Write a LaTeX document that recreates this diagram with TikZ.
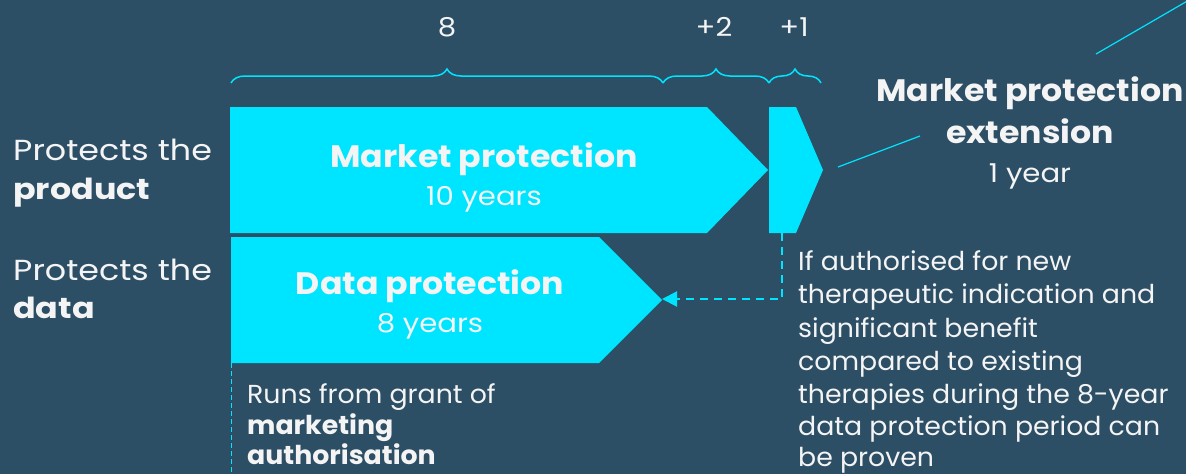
\documentclass[tikz,border=0pt]{standalone}
\usepackage{fontspec}
\setmainfont{Poppins}
\newfontfamily\sidefont[FakeStretch=1.15]{Poppins}
\newfontfamily\titlefont[FakeStretch=1.07]{Poppins}
\newfontfamily\subfont[FakeStretch=1.12]{Poppins}
\newfontfamily\condfont[FakeStretch=1.03]{Poppins}
\usetikzlibrary{decorations.pathreplacing,arrows.meta}
\definecolor{bgc}{HTML}{2C4F66}
\definecolor{cyanc}{HTML}{00E5FF}
\definecolor{txt}{HTML}{F4F4F4}
\tikzset{
  lbl/.style={text=txt, inner sep=0pt},
  side/.style={lbl, anchor=base west, font=\sidefont\fontsize{29}{29}\selectfont},
  sidebold/.style={side, font=\sidefont\fontsize{29}{29}\selectfont\bfseries},
  cond/.style={lbl, anchor=base west, font=\condfont\fontsize{26}{26}\selectfont},
  condbold/.style={cond, font=\condfont\fontsize{26}{26}\selectfont\bfseries},
  title/.style={lbl, anchor=base, font=\titlefont\fontsize{31}{31}\selectfont\bfseries},
  sub/.style={lbl, anchor=base, font=\subfont\fontsize{26}{26}\selectfont},
  num/.style={lbl, anchor=base, font=\subfont\fontsize{26}{26}\selectfont},
  bar/.style={fill=cyanc},
  bracestyle/.style={draw=cyanc, line width=1.5pt, decorate, decoration={brace, amplitude=14pt}},
  dashconn/.style={draw=cyanc, line width=2pt, dash pattern=on 8pt off 6pt, -{Triangle[length=15pt,width=15pt]}},
  thindash/.style={draw=cyanc, line width=1pt, dash pattern=on 5pt off 3pt},
  callout/.style={draw=cyanc, line width=1.2pt}
}
\begin{document}
\begin{tikzpicture}[x=1pt,y=-1pt]
\useasboundingbox (0,0) rectangle (1186,474);
\fill[bgc] (0,0) rectangle (1186,474);
\clip (0,0) rectangle (1186,474);

% coordinates
\coordinate (mp-tip) at (768,170);
\coordinate (ext-bot) at (782,233);
\coordinate (ext-tip) at (823,170);
\coordinate (dp-tip) at (662,299);
\coordinate (dp-bl) at (231,363);
\coordinate (runs-end) at (231,474);
\coordinate (b0) at (231,83);
\coordinate (b1) at (663,83);
\coordinate (b2) at (769,83);
\coordinate (b3) at (821,83);
\coordinate (co1a) at (838,167);
\coordinate (co1b) at (920,136);
\coordinate (co2a) at (1096,54);
\coordinate (co2b) at (1196,-4);

% bars
\path[bar] (230,107) -- (707,107) -- (mp-tip) -- (707,233) -- (230,233) -- cycle;
\path[bar] (769,107) -- (796,107) -- (ext-tip) -- (796,233) -- (769,233) -- cycle;
\path[bar] (231,237) -- (599,237) -- (662,300) -- (599,363) -- (231,363) -- cycle;

% braces
\draw[bracestyle] (b0) -- (b1);
\draw[bracestyle] (b1) -- (b2);
\draw[bracestyle] (b2) -- (b3);
\node[num] (n8) at (447,36) {8};
\node[num] (n2) at (714,36) {+2};
\node[num] (n1) at (794,36) {+1};

% connectors
\draw[dashconn] (ext-bot) |- (dp-tip);
\draw[thindash] (dp-bl) -- (runs-end);
\draw[callout] (co1a) -- (co1b);
\draw[callout] (co2a) -- (co2b);

% side labels
\node[side] (pt1) at (13,160) {Protects the};
\node[sidebold] (pt1b) at (13,199) {product};
\node[side] (pt2) at (13,280) {Protects the};
\node[sidebold] (pt2b) at (13,318) {data};

% bar labels
\node[title] (mpt) at (484,167) {Market protection};
\node[sub] (mps) at (484,205) {10 years};
\node[title] (dpt) at (430,294) {Data protection};
\node[sub] (dps) at (430,332) {8 years};

% extension label
\node[title] (ext1) at (1030,101) {Market protection};
\node[title] (ext2) at (1030,143) {extension};
\node[sub] (ext3) at (1030,182) {1 year};

% runs from
\node[cond] (r1) at (247,403) {Runs from grant of};
\node[condbold] (r2) at (247,434) {marketing};
\node[condbold] (r3) at (247,464) {authorisation};

% condition
\node[cond] (c1) at (798,270) {If authorised for new};
\node[cond] (c2) at (798,303.5) {therapeutic indication and};
\node[cond] (c3) at (798,337) {significant benefit};
\node[cond] (c4) at (798,370) {compared to existing};
\node[cond] (c5) at (798,403) {therapies during the 8-year};
\node[cond] (c6) at (798,435) {data protection period can};
\node[cond] (c7) at (798,466) {be proven};
\end{tikzpicture}
\end{document}
